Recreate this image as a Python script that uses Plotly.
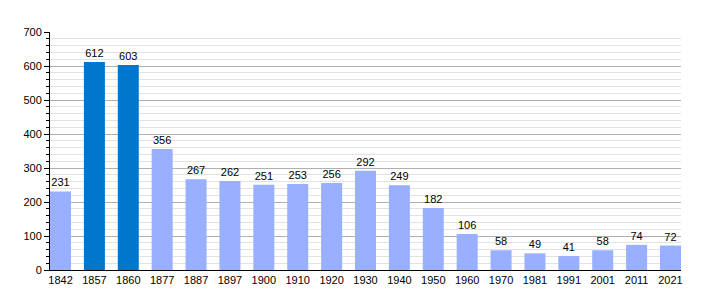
import plotly.graph_objects as go

years = ["1842", "1857", "1860", "1877", "1887", "1897", "1900", "1910", "1920", "1930",
         "1940", "1950", "1960", "1970", "1981", "1991", "2001", "2011", "2021"]
population = [231, 612, 603, 356, 267, 262, 251, 253, 256, 292,
              249, 182, 106, 58, 49, 41, 58, 74, 72]
highlight = ["1857", "1860"]

LIGHT = "#99AFFF"
DARK = "#0077CC"
colors = [DARK if y in highlight else LIGHT for y in years]

fig = go.Figure()
fig.add_trace(go.Bar(
    x=list(range(len(years))), y=population,
    marker=dict(color=colors, line=dict(width=0)),
    text=[str(v) for v in population], textposition="outside",
    textfont=dict(size=11, color="black", family="Liberation Sans, Arial"),
    cliponaxis=False, width=0.62,
))

fig.update_layout(
    width=710, height=300,
    margin=dict(l=50, r=29, t=32, b=30),
    plot_bgcolor="white", paper_bgcolor="white",
    showlegend=False,
    font=dict(family="Liberation Sans, Arial", size=11, color="black"),
    uniformtext=dict(minsize=11, mode="show"),
)
fig.update_xaxes(
    tickmode="array", tickvals=list(range(len(years))), ticktext=years,
    range=[-0.31, len(years) - 1 + 0.31],
    showline=True, linecolor="black", linewidth=1,
    showgrid=False, ticks="", tickfont=dict(size=11),
)
fig.update_yaxes(
    range=[0, 700], tickvals=list(range(0, 701, 100)),
    showline=True, linecolor="black", linewidth=1,
    showgrid=True, gridcolor="#b0b0b0", gridwidth=1,
    ticks="outside", ticklen=5, tickcolor="black",
    minor=dict(dtick=20, showgrid=True, gridcolor="#e2e2e2", ticks="outside",
               ticklen=3, tickcolor="black"),
    zeroline=False, tickfont=dict(size=11),
)

fig.write_html("out.html")
